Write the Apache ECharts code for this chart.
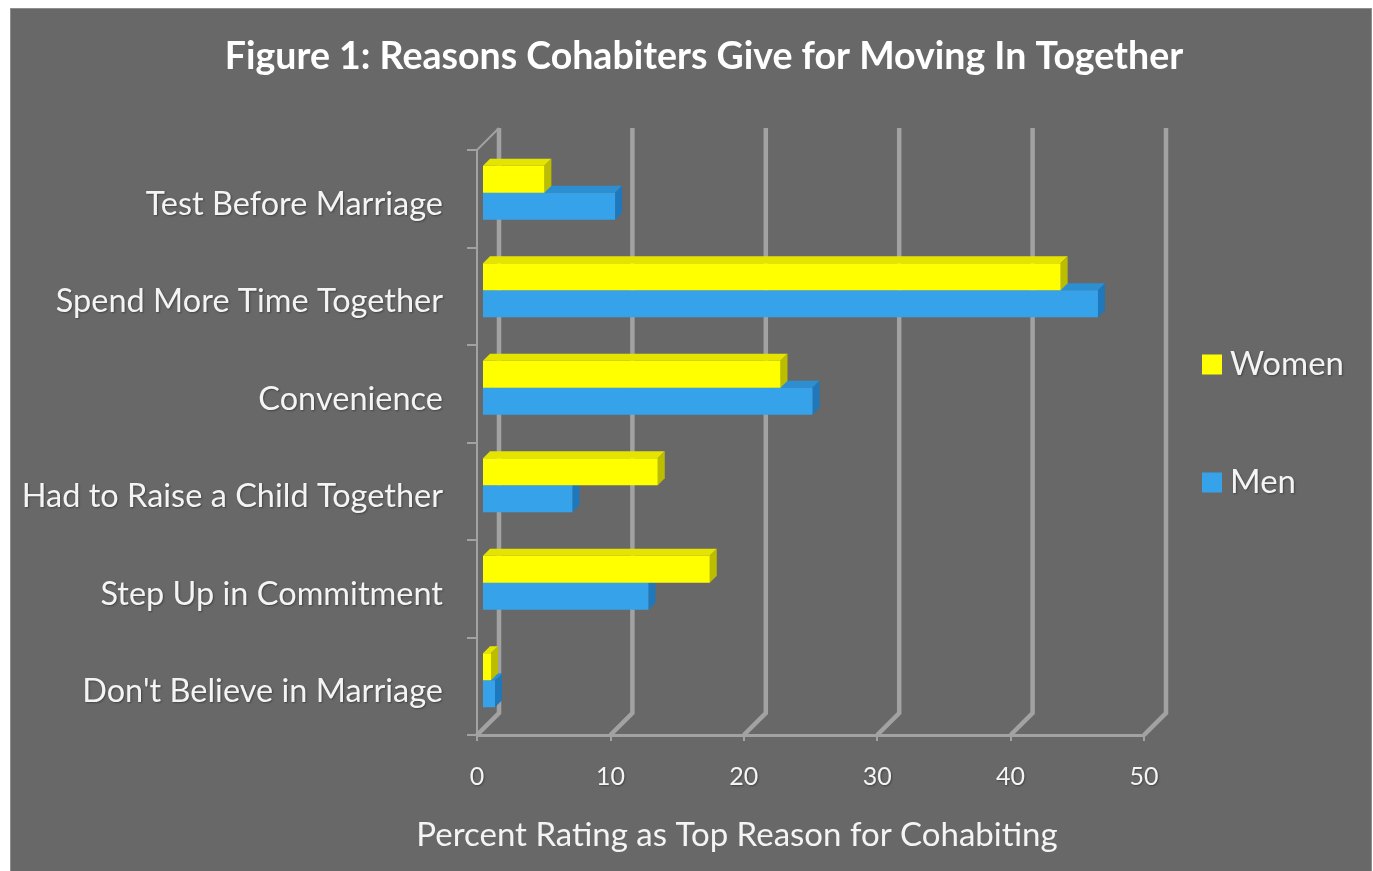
<!DOCTYPE html>
<html><head><meta charset="utf-8">
<script src="https://cdn.jsdelivr.net/npm/echarts@6/dist/echarts.min.js"></script>
<style>
html,body{margin:0;padding:0;background:#fff;width:1373px;height:871px;overflow:hidden}
#panel{position:absolute;left:10px;top:8px;width:1360px;height:880px;background:#686868;border:1px solid #8e8e8e}
#chart{position:absolute;left:0;top:0;width:1373px;height:871px}
</style></head>
<body><div id="panel"></div><div id="chart"></div>
<script>
const titleText = 'Figure 1: Reasons Cohabiters Give for Moving In Together';
const xAxisTitle = 'Percent Rating as Top Reason for Cohabiting';
const categories = ['Test Before Marriage','Spend More Time Together','Convenience','Had to Raise a Child Together','Step Up in Commitment',"Don't Believe in Marriage"];
const women = [4.6, 43.3, 22.3, 13.1, 17.0, 0.6];
const men = [9.9, 46.1, 24.7, 6.7, 12.4, 0.9];
const xTicks = [0, 10, 20, 30, 40, 50];

const FONT = 'Lato, "Open Sans", sans-serif';
const TXT = '#f4f4f4';
const GRIDC = '#a2a2a2';
const SH = { textShadowColor: 'rgba(0,0,0,0.35)', textShadowBlur: 2, textShadowOffsetX: 1, textShadowOffsetY: 1 };

function barRenderer(isUpper, cFront, cTop, cSide) {
  return function (params, api) {
    const val = api.value(0), idx = api.value(1);
    const p0 = api.coord([0, idx]);
    const p1 = api.coord([val, idx]);
    const band = api.size([0, 1])[1];
    const h = band * 0.277;
    const d = band * 0.0615;
    const dep = 7;
    const x0 = p0[0] + d, x1 = p1[0] + d;
    const yc = p0[1] - d;
    const yt = isUpper ? yc - h : yc;
    const yb = isUpper ? yc : yc + h;
    return {
      type: 'group',
      children: [
        { type: 'polygon', shape: { points: [[x0, yt], [x1, yt], [x1 + dep, yt - dep], [x0 + dep, yt - dep]] }, style: { fill: cTop } },
        { type: 'polygon', shape: { points: [[x1, yt], [x1 + dep, yt - dep], [x1 + dep, yb - dep], [x1, yb]] }, style: { fill: cSide } },
        { type: 'rect', shape: { x: x0, y: yt, width: Math.max(x1 - x0, 0.5), height: yb - yt }, style: { fill: cFront } }
      ]
    };
  };
}

function gridRenderer(params, api) {
  const v = api.value(0);
  const n = categories.length;
  const band = api.size([0, 1])[1];
  const pb = api.coord([v, n - 1]);
  const pt = api.coord([v, 0]);
  const yb = pb[1] + band / 2, yt = pt[1] - band / 2, x = pb[0];
  const D = 22;
  const children = [
    { type: 'polyline', shape: { points: [[x, yb], [x + D, yb - D], [x + D, yt - D]] }, style: { stroke: GRIDC, lineWidth: 4.5, fill: null } }
  ];
  if (v === 0) {
    children.push({ type: 'line', shape: { x1: x, y1: yt, x2: x + D, y2: yt - D }, style: { stroke: GRIDC, lineWidth: 2 } });
  }
  return { type: 'group', children };
}

const shadowStyle = { shadowColor: 'rgba(0,0,0,0.35)', shadowBlur: 2, shadowOffsetX: 1, shadowOffsetY: 1 };

const chart = echarts.init(document.getElementById('chart'), null, { renderer: 'canvas' });
chart.setOption({
  backgroundColor: 'transparent',
  animation: false,
  textStyle: { fontFamily: FONT },
  graphic: [
    { type: 'text', x: 704, y: 57, style: Object.assign({ text: titleText, fill: '#ffffff', font: 'bold 37.5px ' + FONT, align: 'center', verticalAlign: 'middle' }, shadowStyle) },
    { type: 'text', x: 737, y: 835, style: Object.assign({ text: xAxisTitle, fill: TXT, font: '33px ' + FONT, align: 'center', verticalAlign: 'middle' }, shadowStyle) }
  ],
  legend: {
    data: ['Women', 'Men'],
    orient: 'vertical',
    left: 1197, top: 343,
    itemWidth: 20, itemHeight: 20, itemGap: 85,
    icon: 'rect',
    textStyle: Object.assign({ color: TXT, fontSize: 33, fontFamily: FONT, lineHeight: 28, padding: [0, 0, 0, 3] }, SH)
  },
  grid: { left: 477, right: 229, top: 150, bottom: 136, containLabel: false },
  xAxis: {
    type: 'value', min: 0, max: 50, interval: 10,
    axisLine: { show: true, lineStyle: { color: GRIDC, width: 3 } },
    axisTick: { show: true, length: 6, lineStyle: { color: GRIDC, width: 2 } },
    axisLabel: Object.assign({ color: TXT, fontSize: 25, margin: 29, fontFamily: FONT }, SH),
    splitLine: { show: false }
  },
  yAxis: {
    type: 'category', data: categories, inverse: true,
    axisLine: { show: true, lineStyle: { color: GRIDC, width: 2 } },
    axisTick: { show: true, length: 10, lineStyle: { color: GRIDC, width: 2 } },
    axisLabel: Object.assign({
      color: TXT, fontSize: 32.5, margin: 34, fontFamily: FONT,
      formatter: function (v) { return '{c|' + v + '}'; },
      rich: { c: Object.assign({ color: TXT, fontSize: 32.5, fontFamily: FONT, padding: [11, 0, 0, 0] }, SH) }
    }, SH),
    splitLine: { show: false }
  },
  series: [
    { type: 'custom', name: 'grid3d', silent: true, clip: false, z: 1, renderItem: gridRenderer, encode: { x: 0, y: 1 }, data: xTicks.map(v => [v, 0]) },
    { type: 'custom', name: 'Men', clip: false, z: 3, itemStyle: { color: '#35a2ea' }, renderItem: barRenderer(false, '#35a2ea', '#2b8fd2', '#1e78bb'), encode: { x: 0, y: 1 }, data: men.map((v, i) => [v, i]) },
    { type: 'custom', name: 'Women', clip: false, z: 4, itemStyle: { color: '#ffff00' }, renderItem: barRenderer(true, '#ffff00', '#e4e400', '#bdbd00'), encode: { x: 0, y: 1 }, data: women.map((v, i) => [v, i]) }
  ]
});
</script>
</body></html>
